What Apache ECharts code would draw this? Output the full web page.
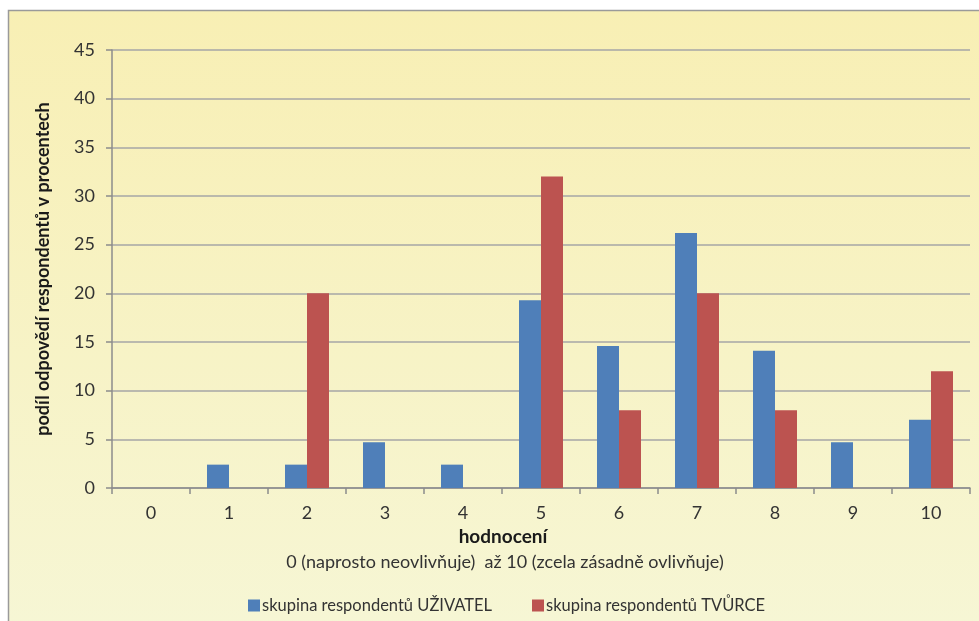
<!DOCTYPE html>
<html>
<head>
<meta charset="utf-8">
<script src="https://cdn.jsdelivr.net/npm/echarts@6/dist/echarts.min.js"></script>
<style>
  html, body { margin: 0; padding: 0; background: #ffffff; }
  #chart { width: 979px; height: 621px; }
</style>
</head>
<body>
<div id="chart"></div>
<script>
// Rating scale 0–10 and share of answers (%) per respondent group
const categories = ['0', '1', '2', '3', '4', '5', '6', '7', '8', '9', '10'];
const usersShare = [0, 2.4, 2.4, 4.7, 2.4, 19.3, 14.6, 26.2, 14.1, 4.7, 7.0];
const creatorsShare = [0, 0, 20, 0, 0, 32, 8, 20, 8, 0, 12];
const seriesNames = ['skupina respondentů UŽIVATEL', 'skupina respondentů TVŮRCE'];
const yTicks = { min: 0, max: 45, step: 5 };

const FONT = 'Lato, "Open Sans", sans-serif';
const chart = echarts.init(document.getElementById('chart'));

chart.setOption({
  backgroundColor: '#ffffff',
  animation: false,
  textStyle: { fontFamily: FONT },
  graphic: [
    {
      type: 'rect', z: -10, silent: true,
      shape: { x: 8.5, y: 10.5, width: 1000, height: 700 },
      style: {
        fill: new echarts.graphic.LinearGradient(0, 0, 0, 1, [
          { offset: 0, color: '#f8efb4' },
          { offset: 1, color: '#f6f7d9' }
        ]),
        stroke: '#9a9a9a', lineWidth: 1.5
      }
    },
    {
      type: 'text', silent: true, x: 503, y: 537,
      style: { text: 'hodnocení', fontFamily: FONT, fontSize: 19, fontWeight: 'bold',
               fill: '#1a1a1a', align: 'center', verticalAlign: 'middle' }
    },
    {
      type: 'text', silent: true, x: 505, y: 562,
      style: { text: '0 (naprosto neovlivňuje)  až 10 (zcela zásadně ovlivňuje)', fontFamily: FONT,
               fontSize: 18, fill: '#333333', align: 'center', verticalAlign: 'middle' }
    }
  ],
  legend: {
    left: 243, top: 592,
    itemWidth: 12, itemHeight: 12, itemGap: 40,
    icon: 'rect',
    textStyle: { fontFamily: FONT, fontSize: 16.5, color: '#333333', padding: [0, 0, 0, -3] },
    data: seriesNames
  },
  grid: { left: 112, right: 9, top: 50, bottom: 133 },
  xAxis: {
    type: 'category',
    data: categories,
    boundaryGap: true,
    axisLine: { lineStyle: { color: '#8c8c8c', width: 1.5 } },
    axisTick: { show: true, length: 6, alignWithLabel: false, lineStyle: { color: '#8c8c8c', width: 1.5 } },
    axisLabel: { fontFamily: FONT, fontSize: 18, color: '#333333', margin: 16 },
    splitLine: { show: false }
  },
  yAxis: {
    type: 'value',
    min: yTicks.min, max: yTicks.max, interval: yTicks.step,
    name: 'podíl odpovědí respondentů v procentech',
    nameLocation: 'middle', nameRotate: 90, nameGap: 60,
    nameTextStyle: { fontFamily: FONT, fontSize: 18, fontWeight: 'bold', color: '#1a1a1a' },
    axisLine: { show: true, lineStyle: { color: '#8c8c8c', width: 1.5 } },
    axisTick: { show: true, length: 6, lineStyle: { color: '#8c8c8c', width: 1.5 } },
    axisLabel: { fontFamily: FONT, fontSize: 18, color: '#333333', margin: 17 },
    splitLine: { show: true, lineStyle: { color: '#a6a6a6', width: 1.5 } }
  },
  series: [
    {
      name: seriesNames[0], type: 'bar', data: usersShare,
      barWidth: 22, barGap: '0%',
      itemStyle: { color: '#4f7fb9' }
    },
    {
      name: seriesNames[1], type: 'bar', data: creatorsShare,
      barWidth: 22, barGap: '0%',
      itemStyle: { color: '#bc5350' }
    }
  ]
});
</script>
</body>
</html>
